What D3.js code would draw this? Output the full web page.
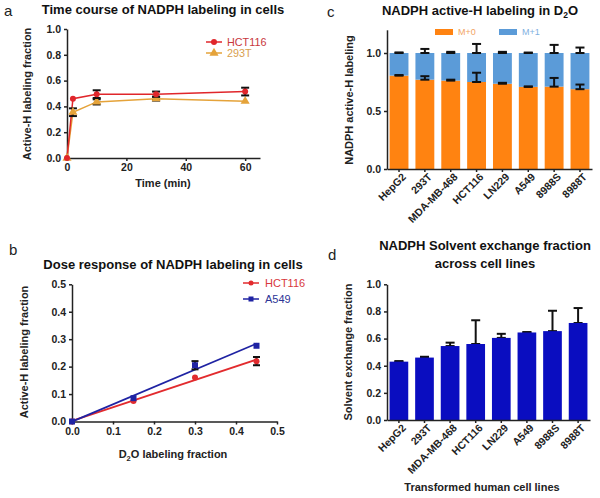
<!DOCTYPE html>
<html>
<head>
<meta charset="utf-8">
<script src="https://cdn.jsdelivr.net/npm/d3@7"></script>
<style>
  body { margin: 0; background: #fff; }
  svg { font-family: "Liberation Sans", Arial, sans-serif; }
  .axis text { font-weight: bold; font-size: 10.5px; fill: #222; }
  .axis path, .axis line { stroke: #222; stroke-width: 1.5px; }
  .ttl { font-weight: bold; font-size: 13px; fill: #111; }
  .lab { font-weight: bold; font-size: 11px; fill: #222; }
  .panel { font-size: 15px; fill: #222; }
</style>
</head>
<body>
<svg id="fig" width="600" height="498"></svg>
<script>
// ---- panel a: time course
const timePts = [0, 2, 10, 30, 60];
const hctTime = [0, 0.46, 0.495, 0.495, 0.515];
const hctTimeErr = [0, 0.005, 0.03, 0.02, 0.03];
const t293Time = [0, 0.355, 0.435, 0.46, 0.44];
const t293TimeErr = [0, 0.03, 0.02, 0.015, 0.005];

// ---- panel b: dose response
const d2oFrac = [0, 0.15, 0.3, 0.45];
const hctDose = [0, 0.075, 0.16, 0.22];
const hctDoseErr = [0, 0.005, 0.005, 0.015];
const a549Dose = [0, 0.085, 0.205, 0.276];
const a549DoseErr = [0, 0.005, 0.015, 0.005];

// ---- panel c/d: cell lines
const cellLines = ['HepG2', '293T', 'MDA-MB-468', 'HCT116', 'LN229', 'A549', '8988S', '8988T'];
const m0 = [0.805, 0.77, 0.762, 0.75, 0.735, 0.708, 0.71, 0.688];
const m0Err = [0.005, 0.03, 0.008, 0.08, 0.008, 0.004, 0.075, 0.04];
const m1 = m0.map(v => 1 - v);
const totalErr = [0.005, 0.035, 0.01, 0.078, 0.01, 0.004, 0.07, 0.047];
const exchange = [0.43, 0.46, 0.545, 0.56, 0.605, 0.645, 0.655, 0.715];
const exchangeErr = [0.004, 0.006, 0.025, 0.175, 0.03, 0.003, 0.15, 0.11];

const svg = d3.select('#fig');
const f1 = d3.format('.1f');

function errBar(g, x, y0, y1, cap) {
  g.append('line').attr('x1', x).attr('x2', x).attr('y1', y0).attr('y2', y1)
    .attr('stroke', '#111').attr('stroke-width', 2);
  [y0, y1].forEach(y => g.append('line').attr('x1', x - cap).attr('x2', x + cap)
    .attr('y1', y).attr('y2', y).attr('stroke', '#111').attr('stroke-width', 2));
}

function marker(g, shape, x, y, color, s) {
  if (shape === 'circle') {
    g.append('circle').attr('cx', x).attr('cy', y).attr('r', s).attr('fill', color);
  } else if (shape === 'square') {
    g.append('rect').attr('x', x - s).attr('y', y - s).attr('width', 2 * s).attr('height', 2 * s).attr('fill', color);
  } else {
    g.append('path').attr('d', d3.symbol(d3.symbolTriangle, s * s * 4)()).attr('transform', `translate(${x},${y})`).attr('fill', color);
  }
}

// rotated category labels like GraphPad
function rotLabels(sel) {
  sel.selectAll('text')
    .attr('x', 0).attr('y', 0).attr('dx', 0).attr('dy', '0.35em')
    .attr('font-size', 10)
    .attr('text-anchor', 'end')
    .attr('transform', 'translate(5,6) rotate(-45)');
}

// ================= panel a =================
(function () {
  const g = svg.append('g');
  const x = d3.scaleLinear().domain([0, 65]).range([67, 260]);
  const y = d3.scaleLinear().domain([0, 1]).range([158, 29]);
  g.append('g').attr('class', 'axis').attr('transform', 'translate(0,158)')
    .call(d3.axisBottom(x).tickValues([0, 20, 40, 60]).tickSize(3).tickSizeOuter(0));
  g.append('g').attr('class', 'axis').attr('transform', 'translate(67,0)')
    .call(d3.axisLeft(y).ticks(5).tickFormat(f1).tickSize(3).tickSizeOuter(0));

  const series = [
    { vals: t293Time, err: t293TimeErr, color: '#E5A33A', shape: 'tri' },
    { vals: hctTime, err: hctTimeErr, color: '#E0262B', shape: 'circle' }
  ];
  series.forEach(s => {
    g.append('path').datum(timePts.map((t, i) => [t, s.vals[i]]))
      .attr('fill', 'none').attr('stroke', s.color).attr('stroke-width', 1.5)
      .attr('d', d3.line().x(d => x(d[0])).y(d => y(d[1])));
  });
  series.forEach(s => {
    timePts.forEach((t, i) => {
      if (s.err[i] > 0.01) errBar(g, x(t), y(s.vals[i] - s.err[i]), y(s.vals[i] + s.err[i]), 4);
      marker(g, s.shape, x(t), y(s.vals[i]), s.color, 3);
    });
  });

  const leg = [['HCT116', '#E0262B', '#C8383C', 'circle'], ['293T', '#E5A33A', '#D9A04E', 'tri']];
  leg.forEach((l, i) => {
    const yy = 42 + i * 11;
    g.append('line').attr('x1', 206).attr('x2', 222).attr('y1', yy).attr('y2', yy).attr('stroke', l[1]).attr('stroke-width', 1.5);
    marker(g, l[3], 214, yy, l[1], 3);
    g.append('text').attr('x', 227).attr('y', yy + 4).attr('font-size', 10.8).attr('fill', l[2]).text(l[0]);
  });

  g.append('text').attr('class', 'ttl').attr('font-size', 12.2).attr('x', 163).attr('y', 14).attr('text-anchor', 'middle')
    .text('Time course of NADPH labeling in cells');
  g.append('text').attr('class', 'lab').attr('font-size', 10.2).attr('x', 163).attr('y', 187).attr('text-anchor', 'middle').text('Time (min)');
  g.append('text').attr('class', 'lab').attr('font-size', 10.4).attr('transform', 'translate(31,94) rotate(-90)').attr('text-anchor', 'middle')
    .text('Active-H labeling fraction');
  g.append('text').attr('class', 'panel').attr('x', 4).attr('y', 16).text('a');
})();

// ================= panel b =================
(function () {
  const g = svg.append('g');
  const x = d3.scaleLinear().domain([0, 0.5]).range([72, 277]);
  const y = d3.scaleLinear().domain([0, 0.5]).range([421.5, 284.3]);
  g.append('g').attr('class', 'axis').attr('transform', 'translate(0,421.5)')
    .call(d3.axisBottom(x).ticks(5).tickFormat(f1).tickSize(3).tickSizeOuter(0));
  g.append('g').attr('class', 'axis').attr('transform', 'translate(72,0)')
    .call(d3.axisLeft(y).ticks(5).tickFormat(f1).tickSize(3).tickSizeOuter(0));

  const series = [
    { vals: hctDose, err: hctDoseErr, color: '#E22B2E', shape: 'circle' },
    { vals: a549Dose, err: a549DoseErr, color: '#1F23A3', shape: 'square' }
  ];
  series.forEach(s => {
    // least-squares fit line
    const pts = d2oFrac.map((v, i) => [v, s.vals[i]]);
    const mx = d3.mean(pts, d => d[0]), my = d3.mean(pts, d => d[1]);
    const slope = d3.sum(pts, d => (d[0] - mx) * (d[1] - my)) / d3.sum(pts, d => (d[0] - mx) ** 2);
    const icpt = my - slope * mx;
    const x0 = d3.min(d2oFrac), x1 = d3.max(d2oFrac);
    g.append('line').attr('x1', x(x0)).attr('y1', y(icpt + slope * x0)).attr('x2', x(x1)).attr('y2', y(icpt + slope * x1))
      .attr('stroke', s.color).attr('stroke-width', 1.8);
  });
  series.forEach(s => {
    d2oFrac.forEach((v, i) => {
      if (s.err[i] > 0.008) errBar(g, x(v), y(s.vals[i] - s.err[i]), y(s.vals[i] + s.err[i]), 3.5);
      marker(g, s.shape, x(v), y(s.vals[i]), s.color, 3);
    });
  });

  const leg = [['HCT116', '#E22B2E', '#D8383C', 'circle'], ['A549', '#1F23A3', '#2D3596', 'square']];
  leg.forEach((l, i) => {
    const yy = 283 + i * 16;
    g.append('line').attr('x1', 243).attr('x2', 259).attr('y1', yy).attr('y2', yy).attr('stroke', l[1]).attr('stroke-width', 1.5);
    marker(g, l[3], 251, yy, l[1], 2.5);
    g.append('text').attr('x', 265).attr('y', yy + 4).attr('font-size', 11).attr('fill', l[2]).text(l[0]);
  });

  g.append('text').attr('class', 'ttl').attr('x', 173).attr('y', 268.5).attr('text-anchor', 'middle')
    .text('Dose response of NADPH labeling in cells');
  const xl = g.append('text').attr('class', 'lab').attr('x', 173).attr('y', 458).attr('text-anchor', 'middle');
  xl.append('tspan').text('D');
  xl.append('tspan').attr('font-size', 7.5).attr('dy', 3).text('2');
  xl.append('tspan').attr('dy', -3).text('O labeling fraction');
  g.append('text').attr('class', 'lab').attr('transform', 'translate(28,352) rotate(-90)').attr('text-anchor', 'middle')
    .text('Active-H labeling fraction');
  g.append('text').attr('class', 'panel').attr('x', 9).attr('y', 255).text('b');
})();

// ================= panel c =================
(function () {
  const g = svg.append('g');
  const x = d3.scaleBand().domain(cellLines).range([387, 592]).paddingInner(0.27).paddingOuter(0.1);
  const y = d3.scaleLinear().domain([0, 1.2]).range([169, 29.8]);
  const orange = '#FF8311', blue = '#5B9BD8';

  const rows = cellLines.map((c, i) => ({ cell: c, m0: m0[i], m1: m1[i] }));
  const stacked = d3.stack().keys(['m0', 'm1'])(rows);
  const color = d3.scaleOrdinal().domain(['m0', 'm1']).range([orange, blue]);
  g.append('g').selectAll('g').data(stacked).join('g').attr('fill', d => color(d.key))
    .selectAll('rect').data(d => d).join('rect')
    .attr('x', d => x(d.data.cell)).attr('width', x.bandwidth())
    .attr('y', d => y(d[1])).attr('height', d => y(d[0]) - y(d[1]));

  cellLines.forEach((c, i) => {
    const cx = x(c) + x.bandwidth() / 2;
    errBar(g, cx, y(m0[i]), y(m0[i] + m0Err[i]), 4.5);
    errBar(g, cx, y(1), y(1 + totalErr[i]), 4.5);
  });

  g.append('g').attr('class', 'axis').attr('transform', 'translate(0,169)')
    .call(d3.axisBottom(x).tickSize(3).tickSizeOuter(0))
    .call(rotLabels);
  g.append('g').attr('class', 'axis').attr('transform', 'translate(387,0)')
    .call(d3.axisLeft(y).tickValues([0, 0.5, 1]).tickFormat(f1).tickSize(3).tickSizeOuter(0));

  const leg = [['M+0', orange, '#F2A463', 435], ['M+1', blue, '#7FB0DF', 499]];
  leg.forEach(l => {
    g.append('rect').attr('x', l[3]).attr('y', 29).attr('width', 18).attr('height', 6).attr('fill', l[1]);
    g.append('text').attr('x', l[3] + 23).attr('y', 35).attr('font-size', 9).attr('fill', l[2]).text(l[0]);
  });

  const t = g.append('text').attr('class', 'ttl').attr('x', 480).attr('y', 15).attr('text-anchor', 'middle');
  t.append('tspan').text('NADPH active-H labeling in D');
  t.append('tspan').attr('font-size', 8.5).attr('dy', 3).text('2');
  t.append('tspan').attr('dy', -3).text('O');
  g.append('text').attr('class', 'lab').attr('transform', 'translate(353,100) rotate(-90)').attr('text-anchor', 'middle')
    .text('NADPH active-H labeling');
  g.append('text').attr('class', 'panel').attr('x', 327).attr('y', 17).text('c');
})();

// ================= panel d =================
(function () {
  const g = svg.append('g');
  const x = d3.scaleBand().domain(cellLines).range([387, 590]).paddingInner(0.27).paddingOuter(0.1);
  const y = d3.scaleLinear().domain([0, 1]).range([420, 284.3]);

  cellLines.forEach((c, i) => {
    const cx = x(c) + x.bandwidth() / 2;
    errBar(g, cx, y(exchange[i]), y(exchange[i] + exchangeErr[i]), 4.5);
  });
  g.append('g').selectAll('rect').data(cellLines).join('rect')
    .attr('x', d => x(d)).attr('width', x.bandwidth())
    .attr('y', (d, i) => y(exchange[i])).attr('height', (d, i) => y(0) - y(exchange[i]))
    .attr('fill', '#0A0DC0');

  g.append('g').attr('class', 'axis').attr('transform', 'translate(0,420)')
    .call(d3.axisBottom(x).tickSize(3).tickSizeOuter(0))
    .call(rotLabels);
  g.append('g').attr('class', 'axis').attr('transform', 'translate(387,0)')
    .call(d3.axisLeft(y).ticks(5).tickFormat(f1).tickSize(3).tickSizeOuter(0));

  g.append('text').attr('class', 'ttl').attr('x', 485).attr('y', 249.5).attr('text-anchor', 'middle')
    .text('NADPH Solvent exchange fraction');
  g.append('text').attr('class', 'ttl').attr('x', 485).attr('y', 267.5).attr('text-anchor', 'middle')
    .text('across cell lines');
  g.append('text').attr('class', 'lab').attr('font-size', 10.7).attr('x', 482).attr('y', 491).attr('text-anchor', 'middle')
    .text('Transformed human cell lines');
  g.append('text').attr('class', 'lab').attr('transform', 'translate(352,352) rotate(-90)').attr('text-anchor', 'middle')
    .text('Solvent exchange fraction');
  g.append('text').attr('class', 'panel').attr('x', 328).attr('y', 260).text('d');
})();
</script>
</body>
</html>
